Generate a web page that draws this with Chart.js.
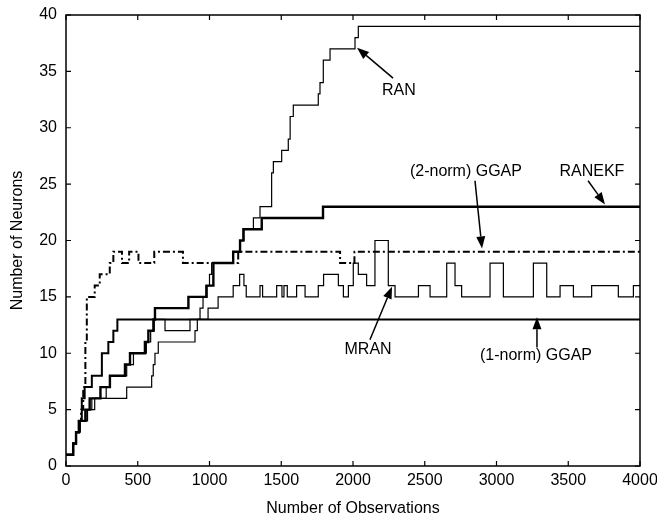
<!DOCTYPE html>
<html lang="en">
<head>
<meta charset="UTF-8">
<title>Number of Neurons vs Number of Observations</title>
<script src="https://cdn.jsdelivr.net/npm/chart.js"></script>
<style>
  html, body { margin: 0; padding: 0; background: #fff; }
  #wrap { width: 657px; height: 518px; }
</style>
</head>
<body>
<div id="wrap"><canvas id="chart" width="657" height="518"></canvas></div>
<script>
// axis ticks
const xTicks = [0, 500, 1000, 1500, 2000, 2500, 3000, 3500, 4000];
const yTicks = [0, 5, 10, 15, 20, 25, 30, 35, 40];

// each series: observation count where the neuron count changes, and the new count
const ranX = [0, 50, 70, 100, 150, 200, 423, 597, 608, 620, 643, 899, 915, 934, 955, 975, 1000, 1015, 1165, 1213, 1240, 1306, 1352, 1433, 1445, 1503, 1549, 1562, 1584, 1758, 1770, 1793, 1840, 2014, 2037, 4000];
const ranY = [1, 2, 3, 4, 5, 6, 7, 8, 9, 10, 11, 12, 13, 14, 15, 16, 17, 18, 19, 20, 21, 22, 23, 26, 27, 28, 29, 31, 32, 33, 34, 36, 37, 38, 39, 39];

const ranekfX = [0, 50, 70, 90, 135, 165, 240, 306, 411, 446, 550, 574, 609, 620, 853, 980, 1027, 1165, 1213, 1236, 1364, 1791, 4000];
const ranekfY = [1, 2, 3, 4, 5, 6, 7, 8, 9, 10, 11, 12, 13, 14, 15, 16, 18, 19, 20, 21, 22, 23, 23];

const ggap2X = [0, 50, 70, 90, 105, 120, 135, 145, 200, 235, 305, 330, 390, 440, 505, 615, 815, 1200, 1910, 2010, 4000];
const ggap2Y = [1, 2, 3, 4, 5, 7, 11, 15, 16, 17, 18, 19, 18, 19, 18, 19, 18, 19, 18, 19, 19];

const mranX = [0, 50, 70, 90, 140, 180, 280, 306, 423, 470, 560, 590, 615, 690, 864, 990, 1060, 1165, 1210, 1240, 1256, 1352, 1370, 1468, 1505, 1519, 1542, 1607, 1666, 1758, 1795, 1898, 1933, 1968, 2002, 2037, 2095, 2153, 2246, 2293, 2456, 2537, 2653, 2711, 2757, 2955, 3048, 3257, 3350, 3443, 3536, 3663, 3849, 3954, 4000];
const mranY = [1, 2, 3, 4, 5, 6, 7, 8, 9, 10, 11, 12, 13, 12, 13, 14, 15, 16, 17, 16, 15, 16, 15, 16, 15, 16, 15, 16, 15, 16, 17, 16, 15, 16, 18, 17, 16, 20, 16, 15, 16, 15, 18, 16, 15, 18, 15, 18, 15, 16, 15, 16, 15, 16, 16];

const ggap1X = [0, 50, 70, 90, 110, 130, 180, 250, 295, 330, 358, 4000];
const ggap1Y = [1, 2, 3, 4, 6, 7, 8, 10, 11, 12, 13, 13];

// text labels with arrows (data coordinates)
const notes = [
  { text: 'RAN',           x: 2320, y: 33.3, fromX: 2279, fromY: 34.4, toX: 2028, toY: 37.1 },
  { text: '(2-norm) GGAP', x: 2787, y: 26.1, fromX: 2850, fromY: 25.3, toX: 2899, toY: 19.3 },
  { text: 'RANEKF',        x: 3665, y: 26.1, fromX: 3638, fromY: 25.3, toX: 3756, toY: 23.2 },
  { text: 'MRAN',          x: 2105, y: 10.3, fromX: 2118, fromY: 11.2, toX: 2272, toY: 15.9 },
  { text: '(1-norm) GGAP', x: 3275, y: 9.75, fromX: 3282, fromY: 10.5, toX: 3282, toY: 13.2 }
];

const FONT = '"Liberation Sans", Arial, sans-serif';

function pts(xs, ys) {
  return xs.map((x, i) => ({ x: x, y: ys[i] }));
}

const frameAndNotes = {
  id: 'frameAndNotes',
  afterDatasetsDraw(chart) {
    const { ctx, chartArea: a, scales: { x, y } } = chart;
    ctx.save();
    ctx.strokeStyle = '#000';
    ctx.lineWidth = 1.5;
    ctx.strokeRect(a.left, a.top, a.right - a.left, a.bottom - a.top);

    // inward ticks on all four sides
    ctx.lineWidth = 1.2;
    ctx.beginPath();
    xTicks.forEach(v => {
      const px = x.getPixelForValue(v);
      ctx.moveTo(px, a.bottom); ctx.lineTo(px, a.bottom - 5);
      ctx.moveTo(px, a.top); ctx.lineTo(px, a.top + 5);
    });
    yTicks.forEach(v => {
      const py = y.getPixelForValue(v);
      ctx.moveTo(a.left, py); ctx.lineTo(a.left + 5, py);
      ctx.moveTo(a.right, py); ctx.lineTo(a.right - 5, py);
    });
    ctx.stroke();

    // labels and arrows
    ctx.fillStyle = '#000';
    ctx.font = '16px ' + FONT;
    ctx.textAlign = 'center';
    ctx.textBaseline = 'middle';
    notes.forEach(n => {
      ctx.fillText(n.text, x.getPixelForValue(n.x), y.getPixelForValue(n.y));
      const x0 = x.getPixelForValue(n.fromX), y0 = y.getPixelForValue(n.fromY);
      const x1 = x.getPixelForValue(n.toX), y1 = y.getPixelForValue(n.toY);
      const ang = Math.atan2(y1 - y0, x1 - x0);
      const len = 12, half = 4.5;
      const bx = x1 - len * Math.cos(ang), by = y1 - len * Math.sin(ang);
      ctx.lineWidth = 1.5;
      ctx.beginPath();
      ctx.moveTo(x0, y0);
      ctx.lineTo(bx, by);
      ctx.stroke();
      ctx.beginPath();
      ctx.moveTo(x1, y1);
      ctx.lineTo(bx + half * Math.sin(ang), by - half * Math.cos(ang));
      ctx.lineTo(bx - half * Math.sin(ang), by + half * Math.cos(ang));
      ctx.closePath();
      ctx.fill();
    });
    ctx.restore();
  }
};

const base = { stepped: true, pointRadius: 0, borderColor: '#000', fill: false };

new Chart(document.getElementById('chart'), {
  type: 'line',
  data: {
    datasets: [
      Object.assign({ label: 'RAN', data: pts(ranX, ranY), borderWidth: 1.2 }, base),
      Object.assign({ label: 'RANEKF', data: pts(ranekfX, ranekfY), borderWidth: 2.4 }, base),
      Object.assign({ label: '(2-norm) GGAP', data: pts(ggap2X, ggap2Y), borderWidth: 2, borderDash: [7, 3, 2, 3] }, base),
      Object.assign({ label: 'MRAN', data: pts(mranX, mranY), borderWidth: 1.2 }, base),
      Object.assign({ label: '(1-norm) GGAP', data: pts(ggap1X, ggap1Y), borderWidth: 2 }, base)
    ]
  },
  options: {
    responsive: false,
    animation: false,
    layout: { padding: { top: 15, right: 17, left: 0, bottom: 0 } },
    plugins: { legend: { display: false }, tooltip: { enabled: false } },
    scales: {
      x: {
        type: 'linear', min: 0, max: 4000,
        afterFit: s => { s.height = 52; s.paddingLeft = 0; s.paddingRight = 0; },
        afterBuildTicks: s => { s.ticks = xTicks.map(v => ({ value: v })); },
        grid: { display: false, drawTicks: false },
        border: { display: false },
        ticks: { color: '#000', padding: 5, maxRotation: 0, callback: v => String(v), font: { family: FONT, size: 16 } },
        title: { display: true, text: 'Number of Observations', color: '#000', padding: { top: 0, bottom: 0 }, font: { family: FONT, size: 16 } }
      },
      y: {
        min: 0, max: 40,
        afterFit: s => { s.width = 66; s.paddingTop = 0; s.paddingBottom = 0; },
        afterBuildTicks: s => { s.ticks = yTicks.map(v => ({ value: v })); },
        grid: { display: false, drawTicks: false },
        border: { display: false },
        ticks: { color: '#000', padding: 9, callback: v => String(v), font: { family: FONT, size: 16 } },
        title: { display: true, text: 'Number of Neurons', color: '#000', padding: { top: 8, bottom: 0 }, font: { family: FONT, size: 16 } }
      }
    }
  },
  plugins: [frameAndNotes]
});
</script>
</body>
</html>
